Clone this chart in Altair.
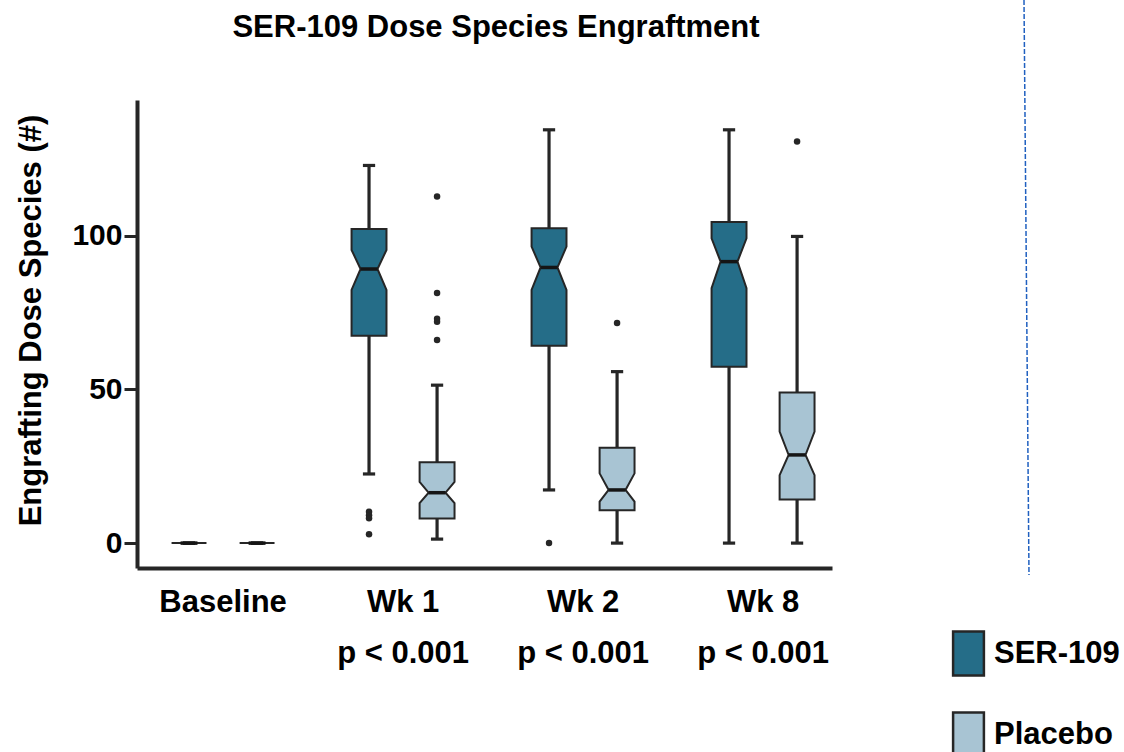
import altair as alt
import pandas as pd

# ---------------- data ----------------
groups = ["Baseline", "Wk 1", "Wk 2", "Wk 8"]
p_values = ["", "p < 0.001", "p < 0.001", "p < 0.001"]
series = ["SER-109", "Placebo"]
colors = ["#256D88", "#A8C4D3"]
chart_title = "SER-109 Dose Species Engraftment"
y_title = "Engrafting Dose Species (#)"

ser_whisker_low = [0, 22.5, 17.3, 0.0]
ser_q1 = [0, 67.5, 64.2, 57.4]
ser_notch_low = [0, 82.4, 82.4, 83.0]
ser_median = [0, 89.2, 89.7, 91.6]
ser_notch_high = [0, 95.4, 96.5, 99.2]
ser_q3 = [0, 102.2, 102.5, 104.5]
ser_whisker_high = [0, 122.9, 134.5, 134.5]

pla_whisker_low = [0, 1.3, 0.0, 0.0]
pla_q1 = [0, 8.0, 10.7, 14.2]
pla_notch_low = [0, 13.0, 13.5, 22.1]
pla_median = [0, 16.4, 17.3, 28.7]
pla_notch_high = [0, 19.9, 22.7, 36.3]
pla_q3 = [0, 26.3, 31.0, 49.0]
pla_whisker_high = [0, 51.4, 55.8, 99.8]

ser_outlier_group = ["Wk 1", "Wk 1", "Wk 1", "Wk 1", "Wk 2"]
ser_outlier_value = [10.2, 9.1, 8.1, 2.9, 0.0]
pla_outlier_group = ["Wk 1", "Wk 1", "Wk 1", "Wk 1", "Wk 1", "Wk 2", "Wk 8"]
pla_outlier_value = [112.8, 81.4, 73.0, 72.0, 66.1, 71.6, 130.7]

# ---------------- layout constants ----------------
OFFSET = {"SER-109": -0.189, "Placebo": 0.189}
BOX_HALF = 0.097
NOTCH_HALF = 0.047
CAP_HALF = 0.034
FONT = "Liberation Sans"
DARK = "#262626"

stats = {
    "SER-109": (ser_whisker_low, ser_q1, ser_notch_low, ser_median,
                ser_notch_high, ser_q3, ser_whisker_high),
    "Placebo": (pla_whisker_low, pla_q1, pla_notch_low, pla_median,
                pla_notch_high, pla_q3, pla_whisker_high),
}

box_rows, med_rows, whisk_rows, cap_rows = [], [], [], []
for s, (wl, q1, nl, md, nh, q3, wh) in stats.items():
    for i, g in enumerate(groups):
        c = i + OFFSET[s]
        pts = [(q1[i], BOX_HALF), (nl[i], BOX_HALF), (md[i], NOTCH_HALF),
               (nh[i], BOX_HALF), (q3[i], BOX_HALF)]
        for k, (yv, h) in enumerate(pts):
            box_rows.append(dict(series=s, box=f"{s}|{g}", k=k, y=yv,
                                 xl=c - h, xr=c + h))
        med_rows.append(dict(y=md[i], xl=c - NOTCH_HALF, xr=c + NOTCH_HALF))
        whisk_rows.append(dict(x=c, y=q3[i], y2=wh[i]))
        whisk_rows.append(dict(x=c, y=q1[i], y2=wl[i]))
        cap_rows.append(dict(y=wh[i], xl=c - CAP_HALF, xr=c + CAP_HALF))
        cap_rows.append(dict(y=wl[i], xl=c - CAP_HALF, xr=c + CAP_HALF))

out_rows = []
for g, v in zip(ser_outlier_group, ser_outlier_value):
    out_rows.append(dict(x=groups.index(g) + OFFSET["SER-109"], y=v))
for g, v in zip(pla_outlier_group, pla_outlier_value):
    out_rows.append(dict(x=groups.index(g) + OFFSET["Placebo"], y=v))

box_df = pd.DataFrame(box_rows)
med_df = pd.DataFrame(med_rows)
whisk_df = pd.DataFrame(whisk_rows)
cap_df = pd.DataFrame(cap_rows)
out_df = pd.DataFrame(out_rows)
lab_df = pd.DataFrame({"x": list(range(len(groups))), "group": groups, "p": p_values})

xscale = alt.Scale(domain=[-0.478, 3.383], nice=False, zero=False)
yscale = alt.Scale(domain=[-8.1, 144.2], nice=False, zero=False)
xaxis = alt.Axis(labels=False, ticks=False, title=None, grid=False,
                 domainWidth=4, domainColor=DARK)
yaxis = alt.Axis(values=[0, 50, 100], grid=False, title=y_title,
                 domainWidth=4, domainColor=DARK, tickColor=DARK, tickWidth=3,
                 tickSize=13, labelPadding=2, labelFont=FONT, labelFontSize=30,
                 labelFontWeight="bold", labelColor="black",
                 titleFont=FONT, titleFontSize=31, titleFontWeight="bold",
                 titleColor="black", titleAngle=270, titleBaseline="alphabetic",
                 titleAlign="center", titleX=-97, titleY=220)

legend = alt.Legend(title=None, orient="none", legendX=808, legendY=530,
                    direction="vertical", padding=0,
                    symbolType="M-0.7,-1H0.7V1H-0.7Z", symbolSize=1936,
                    symbolStrokeColor=DARK, symbolStrokeWidth=2.5, symbolOpacity=1,
                    labelFont=FONT, labelFontSize=31, labelFontWeight="bold",
                    labelColor="black", labelOffset=2, rowPadding=26, labelLimit=300)

boxes = alt.Chart(box_df).mark_area(
    orient="horizontal", stroke=DARK, strokeWidth=2, opacity=1, interpolate="linear"
).encode(
    y=alt.Y("y:Q", scale=yscale, axis=yaxis),
    x=alt.X("xl:Q", scale=xscale, axis=xaxis),
    x2="xr:Q",
    detail="box:N",
    fill=alt.Fill("series:N", scale=alt.Scale(domain=series, range=colors),
                  sort=series, legend=legend),
)

whiskers = alt.Chart(whisk_df).mark_rule(color=DARK, strokeWidth=3.2).encode(
    x=alt.X("x:Q", scale=xscale, axis=xaxis),
    y=alt.Y("y:Q", scale=yscale, axis=yaxis),
    y2="y2:Q",
)

caps = alt.Chart(cap_df).mark_rule(color=DARK, strokeWidth=3.2).encode(
    x=alt.X("xl:Q", scale=xscale, axis=xaxis),
    x2="xr:Q",
    y=alt.Y("y:Q", scale=yscale, axis=yaxis),
)

medians = alt.Chart(med_df).mark_rule(color="#151515", strokeWidth=3.5).encode(
    x=alt.X("xl:Q", scale=xscale, axis=xaxis),
    x2="xr:Q",
    y=alt.Y("y:Q", scale=yscale, axis=yaxis),
)

outliers = alt.Chart(out_df).mark_circle(color=DARK, size=42, opacity=1).encode(
    x=alt.X("x:Q", scale=xscale, axis=xaxis),
    y=alt.Y("y:Q", scale=yscale, axis=yaxis),
)

group_labels = alt.Chart(lab_df).mark_text(
    font=FONT, fontSize=31, fontWeight="bold", color="black",
    baseline="alphabetic", align="center"
).encode(
    x=alt.X("x:Q", scale=xscale, axis=xaxis),
    y=alt.value(512),
    text="group:N",
)

p_labels = alt.Chart(lab_df).mark_text(
    font=FONT, fontSize=31, fontWeight="bold", color="black",
    baseline="alphabetic", align="center"
).encode(
    x=alt.X("x:Q", scale=xscale, axis=xaxis),
    y=alt.value(563),
    text="p:N",
)

title_text = alt.Chart(pd.DataFrame({"t": [chart_title]})).mark_text(
    font=FONT, fontSize=31, fontWeight="bold", color="black",
    baseline="alphabetic", align="center"
).encode(x=alt.value(359), y=alt.value(-63), text="t:N")

divider = alt.Chart(pd.DataFrame({"k": [0]})).mark_rule(
    color="#2060C0", strokeWidth=1.5, strokeDash=[5, 2]
).encode(
    x=alt.value(887), x2=alt.value(892), y=alt.value(-100), y2=alt.value(475)
)

chart = alt.layer(
    whiskers, caps, boxes, medians, outliers, group_labels, p_labels,
    title_text, divider
).properties(
    width=695,
    height=468,
    padding={"left": 137, "top": 100, "right": 292, "bottom": 184},
    autosize=alt.AutoSizeParams(type="none"),
).configure(background="white").configure_view(stroke=None)

chart.save("out.html", embed_options={"renderer": "svg", "actions": False})
